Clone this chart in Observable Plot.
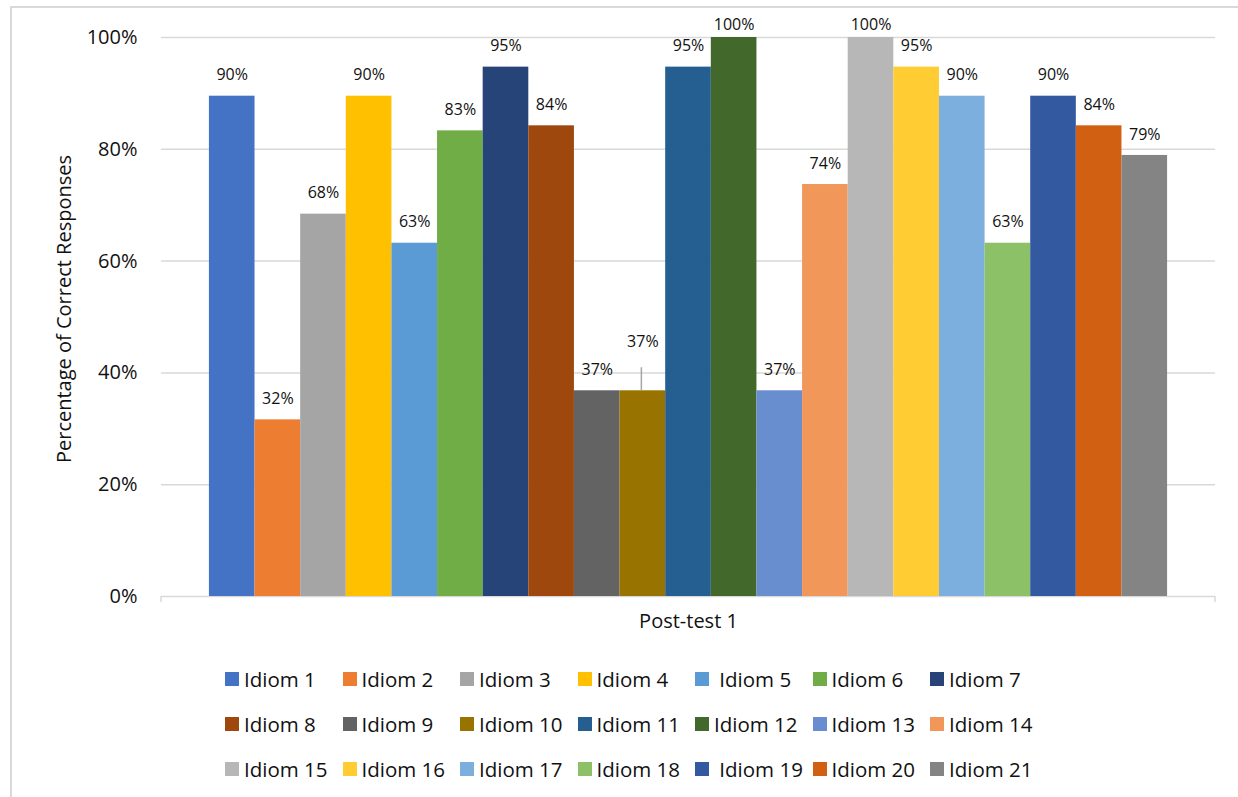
<!DOCTYPE html>
<html>
<head>
<meta charset="utf-8">
<script src="https://cdn.jsdelivr.net/npm/d3@7"></script>
<script src="https://cdn.jsdelivr.net/npm/@observablehq/plot@0.6"></script>
<style>
  html, body { margin: 0; padding: 0; background: #fff; overflow: hidden; }
  body { width: 1238px; height: 797px; position: relative; font-family: "Open Sans", sans-serif; color: #111; }
  #border { position: absolute; left: 10px; top: 6px; width: 1300px; height: 900px; border: 2px solid #d9d9d9; box-sizing: border-box; }
  #chart { position: absolute; left: 0; top: 0; }
  #legend { position: absolute; left: 225px; top: 668px; display: grid; grid-template-columns: repeat(7, 117.5px); grid-auto-rows: 45px; }
  .item { display: flex; align-items: center; height: 22px; font-size: 20.5px; white-space: pre; }
  .sw { width: 14px; height: 14px; margin-right: 5px; flex: none; }
</style>
</head>
<body>
<div id="border"></div>
<div id="chart"></div>
<div id="legend"></div>
<script>
const idioms = ["Idiom 1","Idiom 2","Idiom 3","Idiom 4"," Idiom 5","Idiom 6","Idiom 7",
  "Idiom 8","Idiom 9","Idiom 10","Idiom 11","Idiom 12","Idiom 13","Idiom 14",
  "Idiom 15","Idiom 16","Idiom 17","Idiom 18"," Idiom 19","Idiom 20","Idiom 21"];
const values = [89.5, 31.6, 68.4, 89.5, 63.2, 83.3, 94.7, 84.2, 36.8, 36.8, 94.7, 100, 36.8, 73.7, 100, 94.7, 89.5, 63.2, 89.5, 84.2, 78.9];
const colors = ["#4472C4","#ED7D31","#A5A5A5","#FFC000","#5B9BD5","#70AD47","#264478",
  "#9E480E","#636363","#997300","#255E91","#43682B","#698ED0","#F1975A",
  "#B7B7B7","#FFCD33","#7CAFDD","#8CC168","#335AA1","#D26012","#848484"];
const yTicks = [0, 20, 40, 60, 80, 100];
const xTitle = "Post-test 1";
const yTitle = "Percentage of Correct Responses";

const data = idioms.map((name, i) => ({name, value: values[i]}));
const fmt = v => Math.round(v) + "%";
const normal = data.filter(d => d.value < 100 && d.name !== "Idiom 10");
const full = data.filter(d => d.value >= 100);
const lifted = data.filter(d => d.name === "Idiom 10");

const axisEnds = (index, scales, values, dims) => {
  const g = d3.create("svg:g");
  const y0 = scales.y(0);
  [dims.marginLeft, dims.width - dims.marginRight].forEach(x => {
    g.append("line").attr("x1", x).attr("x2", x).attr("y1", y0).attr("y2", y0 + 6)
      .attr("stroke", "#d9d9d9").attr("stroke-width", 1.5);
  });
  return g.node();
};

const leader = (index, scales, vals, dims) => {
  const g = d3.create("svg:g");
  const bw = typeof scales.x.bandwidth === "function" ? scales.x.bandwidth() : scales.x.bandwidth;
  lifted.forEach(d => {
    const x = scales.x(d.name) + bw / 2 - 1;
    const y = scales.y(d.value);
    g.append("line").attr("x1", x).attr("x2", x).attr("y1", y - 23).attr("y2", y)
      .attr("stroke", "#a6a6a6").attr("stroke-width", 1.5);
  });
  return g.node();
};

const plot = Plot.plot({
  width: 1238,
  height: 645,
  marginLeft: 161,
  marginRight: 23,
  marginTop: 37,
  marginBottom: 49,
  style: {fontFamily: "Open Sans, sans-serif", color: "#111", background: "transparent"},
  x: {domain: idioms, paddingInner: 0, paddingOuter: 1.05, round: false, axis: null},
  y: {domain: [0, 100]},
  color: {domain: idioms, range: colors},
  marks: [
    Plot.gridY(yTicks, {stroke: "#d9d9d9", strokeOpacity: 1, strokeWidth: 1.5}),
    Plot.axisY(yTicks, {tickFormat: d => d + "%", tickSize: 0, tickPadding: 24, fontSize: 20, label: null}),
    axisEnds,
    Plot.barY(data, {x: "name", y: "value", fill: "name"}),
    Plot.text(normal, {x: "name", y: "value", text: d => fmt(d.value), dy: -21, fontSize: 16, fill: "#111"}),
    Plot.text(full, {x: "name", y: "value", text: d => fmt(d.value), dy: -13, fontSize: 16, fill: "#111"}),
    Plot.text(lifted, {x: "name", y: "value", text: d => fmt(d.value), dy: -49, fontSize: 16, fill: "#111"}),
    leader,
    Plot.text([xTitle], {frameAnchor: "bottom", dy: 31, fontSize: 20, fill: "#111"}),
    Plot.text([yTitle], {frameAnchor: "left", textAnchor: "middle", dx: -97, dy: -8, rotate: -90, fontSize: 20, fill: "#111"})
  ]
});
document.getElementById("chart").appendChild(plot);

const legend = document.getElementById("legend");
idioms.forEach((name, i) => {
  const item = document.createElement("div");
  item.className = "item";
  const sw = document.createElement("span");
  sw.className = "sw";
  sw.style.background = colors[i];
  const t = document.createElement("span");
  t.textContent = name;
  item.appendChild(sw);
  item.appendChild(t);
  legend.appendChild(item);
});
</script>
</body>
</html>
